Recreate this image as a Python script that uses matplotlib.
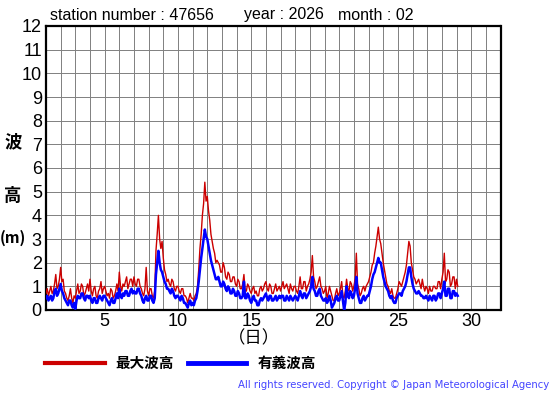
import numpy as np
import matplotlib
matplotlib.use("Agg")
import matplotlib.pyplot as plt

plt.rcParams['font.family'] = ['Liberation Sans', 'Noto Sans CJK JP', 'DejaVu Sans']

# wave heights, 12 readings per day (every 2 hours) from day 1 00h
max_wave = [
    0.7, 0.9, 0.6, 0.8, 1.0, 0.7, 0.8, 1.1, 1.5, 0.9, 1.0, 1.3,   # 1
    1.8, 1.2, 1.3, 0.8, 0.7, 0.5, 0.4, 0.6, 0.9, 0.5, 0.3, 0.6,   # 2
    0.5, 0.8, 1.1, 0.7, 0.8, 1.1, 1.0, 0.6, 0.7, 0.9, 1.1, 0.8,   # 3
    1.3, 0.8, 0.6, 0.9, 1.0, 0.6, 0.5, 0.8, 0.9, 1.2, 0.7, 0.9,   # 4
    1.0, 0.8, 0.6, 0.7, 0.5, 0.9, 0.8, 0.5, 0.6, 0.8, 1.1, 0.8,   # 5
    1.6, 1.0, 0.8, 1.1, 1.0, 1.2, 1.4, 0.9, 1.1, 1.3, 1.3, 1.0,   # 6
    1.4, 1.1, 1.0, 1.3, 1.3, 1.0, 0.9, 0.7, 0.6, 0.9, 1.8, 0.8,   # 7
    0.6, 0.9, 0.9, 0.6, 0.5, 0.8, 2.5, 3.2, 4.0, 3.0, 2.6, 2.9,   # 8
    2.2, 1.7, 1.5, 1.2, 1.3, 1.1, 1.0, 1.3, 1.2, 0.9, 0.8, 1.0,   # 9
    1.0, 0.8, 0.7, 0.9, 0.9, 0.6, 0.6, 0.5, 0.3, 0.5, 0.7, 0.5,   # 10
    0.5, 0.4, 0.6, 0.7, 1.0, 1.7, 2.6, 3.2, 4.0, 4.5, 5.4, 4.6,   # 11
    4.8, 4.2, 3.8, 3.2, 2.9, 2.6, 2.4, 2.0, 2.1, 2.0, 1.9, 1.6,   # 12
    1.6, 2.0, 1.8, 1.4, 1.3, 1.6, 1.5, 1.2, 1.2, 1.4, 1.4, 1.1,   # 13
    1.0, 1.3, 1.2, 0.9, 0.9, 1.1, 1.5, 0.8, 0.8, 1.1, 1.0, 0.8,   # 14
    0.7, 0.9, 1.0, 0.7, 0.8, 0.6, 0.6, 0.9, 1.0, 0.8, 0.9, 1.1,   # 15
    1.2, 0.9, 0.8, 1.1, 1.0, 0.7, 0.7, 0.9, 1.1, 0.8, 0.9, 1.0,   # 16
    0.8, 1.0, 1.2, 0.9, 1.0, 1.1, 0.9, 0.7, 1.1, 0.9, 0.8, 1.0,   # 17
    1.0, 0.8, 0.7, 1.0, 1.4, 0.9, 0.9, 1.2, 1.2, 0.8, 1.0, 1.1,   # 18
    1.3, 1.6, 2.3, 1.4, 1.2, 0.9, 1.0, 1.2, 1.4, 1.0, 0.9, 0.7,   # 19
    0.8, 1.0, 0.5, 0.7, 1.0, 0.8, 0.6, 0.4, 0.4, 0.7, 0.9, 0.6,   # 20
    0.7, 0.9, 1.2, 0.6, 0.5, 0.8, 1.3, 0.9, 0.8, 1.2, 1.1, 0.8,   # 21
    1.0, 1.3, 2.4, 1.1, 0.9, 0.6, 0.7, 0.9, 1.0, 0.8, 1.0, 1.1,   # 22
    1.2, 1.4, 1.6, 1.9, 2.0, 2.4, 2.7, 3.1, 3.5, 3.0, 2.8, 2.4,   # 23
    2.0, 1.7, 1.4, 1.1, 1.0, 0.8, 0.7, 0.9, 0.6, 0.5, 0.5, 0.7,   # 24
    0.9, 1.2, 1.1, 1.0, 1.2, 1.4, 1.6, 1.9, 2.4, 2.9, 2.7, 2.0,   # 25
    1.7, 1.4, 1.3, 1.1, 1.2, 1.3, 1.1, 0.9, 1.3, 1.0, 0.8, 1.0,   # 26
    0.9, 0.7, 1.0, 0.8, 0.8, 1.0, 1.0, 0.9, 0.9, 1.2, 1.2, 0.9,   # 27
    1.3, 1.6, 2.4, 1.2, 1.3, 1.7, 1.6, 1.0, 1.1, 1.4, 1.4, 0.9,   # 28
    1.3, 1.0,                                                     # 29
]
sig_wave = [
    0.5, 0.6, 0.4, 0.5, 0.6, 0.4, 0.5, 0.8, 0.9, 0.6, 0.7, 0.9,
    1.1, 0.8, 0.7, 0.5, 0.4, 0.3, 0.2, 0.4, 0.4, 0.2, 0.1, 0.3,
    0.05, 0.4, 0.6, 0.5, 0.5, 0.7, 0.7, 0.5, 0.4, 0.6, 0.6, 0.5,
    0.6, 0.4, 0.3, 0.5, 0.5, 0.3, 0.3, 0.5, 0.6, 0.5, 0.4, 0.6,
    0.6, 0.5, 0.4, 0.3, 0.2, 0.4, 0.5, 0.3, 0.3, 0.5, 0.7, 0.5,
    0.9, 0.6, 0.5, 0.7, 0.6, 0.8, 0.8, 0.6, 0.6, 0.8, 0.9, 0.7,
    0.8, 0.7, 0.7, 0.9, 0.9, 0.7, 0.6, 0.4, 0.3, 0.5, 0.6, 0.4,
    0.4, 0.6, 0.6, 0.4, 0.3, 0.5, 1.5, 2.0, 2.5, 2.0, 1.7, 1.6,
    1.4, 1.2, 1.1, 0.9, 0.9, 0.8, 0.7, 0.9, 0.8, 0.6, 0.5, 0.6,
    0.6, 0.5, 0.4, 0.6, 0.5, 0.3, 0.3, 0.2, 0.1, 0.3, 0.4, 0.2,
    0.3, 0.2, 0.4, 0.5, 0.8, 1.2, 1.7, 2.2, 2.6, 3.0, 3.4, 3.1,
    3.0, 2.7, 2.4, 2.1, 1.9, 1.7, 1.5, 1.3, 1.3, 1.4, 1.2, 1.0,
    1.0, 1.2, 1.1, 0.9, 0.8, 1.0, 0.9, 0.7, 0.7, 0.9, 0.8, 0.6,
    0.6, 0.8, 0.7, 0.5, 0.5, 0.6, 1.2, 0.5, 0.5, 0.7, 0.6, 0.4,
    0.3, 0.5, 0.6, 0.4, 0.4, 0.2, 0.2, 0.4, 0.5, 0.4, 0.5, 0.6,
    0.7, 0.5, 0.4, 0.6, 0.6, 0.4, 0.4, 0.5, 0.6, 0.4, 0.5, 0.6,
    0.5, 0.6, 0.6, 0.4, 0.4, 0.6, 0.5, 0.4, 0.6, 0.5, 0.4, 0.5,
    0.6, 0.5, 0.4, 0.6, 0.8, 0.6, 0.5, 0.7, 0.7, 0.5, 0.6, 0.7,
    0.8, 1.0, 1.4, 0.9, 0.8, 0.6, 0.6, 0.8, 0.9, 0.6, 0.5, 0.4,
    0.4, 0.5, 0.3, 0.4, 0.6, 0.4, 0.1, 0.2, 0.3, 0.5, 0.6, 0.4,
    0.4, 0.6, 0.8, 0.4, 0.0, 0.3, 1.0, 0.6, 0.5, 0.8, 0.7, 0.5,
    0.6, 0.9, 1.4, 0.7, 0.5, 0.3, 0.3, 0.5, 0.6, 0.4, 0.5, 0.6,
    0.6, 0.8, 1.0, 1.3, 1.5, 1.6, 1.8, 2.0, 2.2, 2.0, 2.0, 1.7,
    1.4, 1.2, 1.0, 0.9, 0.8, 0.6, 0.5, 0.6, 0.4, 0.3, 0.3, 0.5,
    0.6, 0.7, 0.7, 0.6, 0.8, 0.9, 1.0, 1.2, 1.5, 1.8, 1.8, 1.4,
    1.1, 0.9, 0.8, 0.7, 0.7, 0.8, 0.7, 0.6, 0.6, 0.5, 0.5, 0.6,
    0.5, 0.4, 0.6, 0.5, 0.4, 0.6, 0.6, 0.4, 0.5, 0.7, 0.7, 0.5,
    0.7, 0.9, 1.2, 0.6, 0.6, 0.9, 0.9, 0.5, 0.5, 0.8, 0.8, 0.6,
    0.7, 0.6,
]
days = 1 + np.arange(len(max_wave)) / 12.0

xticks = [5, 10, 15, 20, 25, 30]
yticks = list(range(0, 13))

fig = plt.figure(figsize=(5.55, 3.95), dpi=100)
ax = fig.add_axes([46 / 555, 1 - 310 / 395, (500.5 - 46) / 555, (310 - 26) / 395])

ax.plot(days, max_wave, color='#cc0000', lw=1.0, zorder=3)
ax.plot(days, sig_wave, color='#0000ff', lw=1.8, zorder=4)

ax.set_xlim(1, 32)
ax.set_ylim(0, 12)
ax.set_xticks(range(1, 33), minor=True)
ax.set_xticks(xticks)
ax.set_yticks(yticks)
ax.grid(True, which='both', axis='x', color='#808080', lw=0.7)
ax.grid(True, axis='y', color='#808080', lw=0.7)
ax.set_axisbelow(True)
ax.tick_params(which='both', length=0, labelsize=13, pad=3)
ax.tick_params(axis='x', pad=2)
for sp in ax.spines.values():
    sp.set_linewidth(1.6)
    sp.set_color('black')

fig.text(50 / 555, 1 - 15 / 395, 'station number : 47656', fontsize=11.5, va='center')
fig.text(244 / 555, 1 - 15 / 395, 'year : 2026', fontsize=11.5, va='center')
fig.text(338 / 555, 1 - 15 / 395, 'month : 02', fontsize=11.5, va='center')

cjk = ['Noto Sans CJK JP', 'DejaVu Sans']
fig.text(13 / 555, 1 - 142 / 395, '波', fontsize=12.5, ha='center', va='center', family=cjk, fontweight='bold')
fig.text(13 / 555, 1 - 196 / 395, '高', fontsize=12.5, ha='center', va='center', family=cjk, fontweight='bold')
fig.text(13 / 555, 1 - 238 / 395, '(m)', fontsize=11, ha='center', va='center', family=cjk, fontweight='bold')
fig.text(254 / 555, 1 - 338 / 395, '（日）', fontsize=12.5, ha='center', va='center', family=cjk)

# legend drawn by hand under the chart
fig.add_artist(plt.Line2D([45 / 555, 105 / 555], [1 - 363 / 395] * 2, color='#cc0000', lw=3))
fig.text(115 / 555, 1 - 363 / 395, '最大波高', fontsize=10.5, va='center', family=cjk, fontweight='bold')
fig.add_artist(plt.Line2D([188 / 555, 246 / 555], [1 - 363 / 395] * 2, color='#0000ff', lw=3.5))
fig.text(258 / 555, 1 - 363 / 395, '有義波高', fontsize=10.5, va='center', family=cjk, fontweight='bold')

fig.text(549 / 555, 1 - 385 / 395, 'All rights reserved. Copyright © Japan Meteorological Agency',
         fontsize=7.3, ha='right', va='center', color='#4444ff', family='DejaVu Sans')

fig.savefig('out.png', dpi=100)
